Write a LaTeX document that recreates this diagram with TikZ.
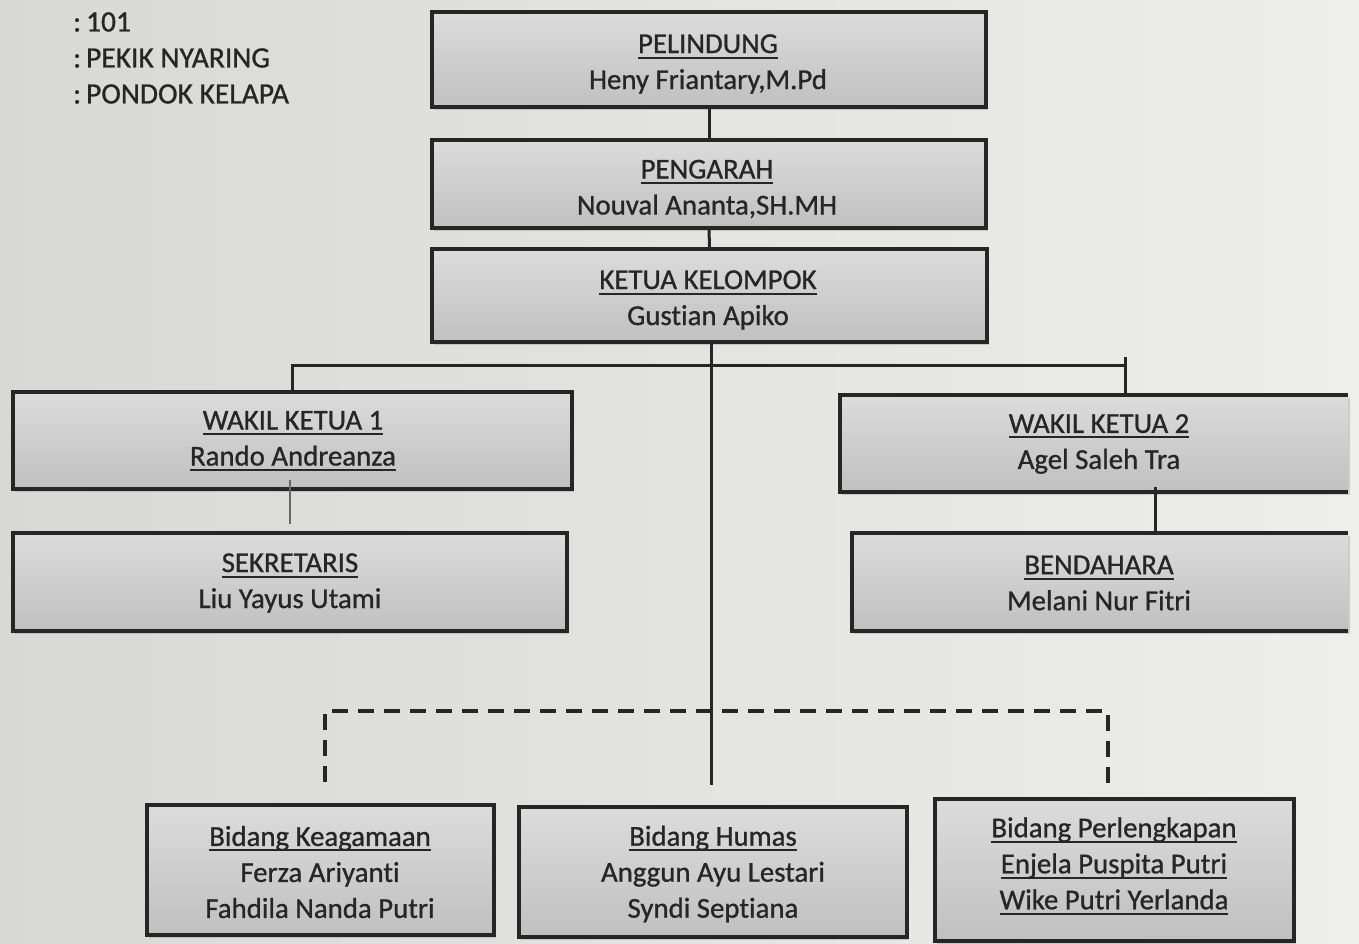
\documentclass[tikz,border=0pt]{standalone}
\usepackage{fontspec}
\setmainfont{Carlito}
\newfontfamily\inkfont[FakeBold=0.9,Ligatures=CommonOff]{Carlito}
\usetikzlibrary{shadows}
\definecolor{bgL}{RGB}{216,216,214}
\definecolor{bgR}{RGB}{238,238,236}
\definecolor{boxT}{RGB}{220,220,220}
\definecolor{boxB}{RGB}{192,192,192}
\definecolor{ink}{RGB}{38,38,38}
\newcommand\uln[1]{\setbox0\hbox{#1}\rlap{\rule[-5.5pt]{\wd0}{2pt}}\box0}
\begin{document}
\begin{tikzpicture}[x=1pt,y=-1pt,
  orgfill/.style={top color=boxT, bottom color=boxB,
    drop shadow={shadow xshift=2pt,shadow yshift=-3pt,opacity=0.3},
    inner sep=0pt, outer sep=0pt},
  orgbox/.style={orgfill, draw=ink, line width=3.5pt},
  lbl/.style={align=center, text=ink, font=\inkfont\fontsize{28.8}{36}\selectfont, inner sep=0pt},
  conn/.style={draw=ink, line width=3pt},
  thinconn/.style={draw=ink!70, line width=1.2pt},
  dashconn/.style={draw=ink, line width=3.5pt, dash pattern=on 16pt off 10pt},
  head/.style={anchor=west, text=ink, font=\inkfont\fontsize{29.5}{30}\selectfont, inner sep=0pt}]
\fill[left color=bgL, right color=bgR] (0,0) rectangle (1359,944);
\useasboundingbox (0,0) rectangle (1359,944);

% header texts
\node[head] (h1) at (73,22) {:\kern5pt101};
\node[head] (h2) at (73,58) {:\kern5ptPEKIK NYARING};
\node[head] (h3) at (73,94) {:\kern5ptPONDOK KELAPA};

% boxes
\node[orgbox, minimum width=554pt, minimum height=95pt] (pel) at (709,59.5) {};
\node[orgbox, minimum width=554pt, minimum height=88pt] (peng) at (709,184) {};
\node[orgbox, minimum width=555pt, minimum height=93pt] (ket) at (709.5,295.5) {};
\node[orgbox, minimum width=559pt, minimum height=97pt] (w1) at (292.5,440.5) {};
\node[orgbox, minimum width=554pt, minimum height=98pt] (sek) at (290,582) {};
\node[orgfill, minimum width=508pt, minimum height=97pt] (w2) at (1094,443.5) {};
\draw[ink, line width=3.5pt] (w2.north east) -- (w2.north west) -- (w2.south west) -- (w2.south east);
\node[orgfill, minimum width=496pt, minimum height=98pt] (bend) at (1100,582) {};
\draw[ink, line width=3.5pt] (bend.north east) -- (bend.north west) -- (bend.south west) -- (bend.south east);
\node[orgbox, minimum width=347pt, minimum height=130pt] (kea) at (320.5,870) {};
\node[orgbox, minimum width=388pt, minimum height=130pt] (hum) at (713,872) {};
\node[orgbox, minimum width=359pt, minimum height=142pt] (per) at (1114.5,870) {};

% box texts
\node[lbl] (tpel) at (708,64) {\uln{PELINDUNG}\\Heny Friantary,M.Pd};
\node[lbl] (tpeng) at (707,189) {\uln{PENGARAH}\\Nouval Ananta,SH.MH};
\node[lbl] (tket) at (708,300) {\uln{KETUA KELOMPOK}\\Gustian Apiko};
\node[lbl] (tw1) at (293,441) {\uln{WAKIL KETUA 1}\\\uln{Rando Andreanza}};
\node[lbl] (tsek) at (290,583) {\uln{SEKRETARIS}\\Liu Yayus Utami};
\node[lbl] (tw2) at (1099,444) {\uln{WAKIL KETUA 2}\\Agel Saleh Tra};
\node[lbl] (tbend) at (1099,583) {\uln{BENDAHARA}\\Melani Nur Fitri};
\node[lbl] (tkea) at (320,872) {\uln{Bidang Keagamaan}\\Ferza Ariyanti\\Fahdila Nanda Putri};
\node[lbl] (thum) at (713,874) {\uln{Bidang Humas}\\Anggun Ayu Lestari\\Syndi Septiana};
\node[lbl] (tper) at (1114,866) {\uln{Bidang Perlengkapan}\\\uln{Enjela Puspita Putri}\\\uln{Wike Putri Yerlanda}};

% connector coordinates
\coordinate (bar) at (0,365);
\coordinate (j2) at (1125,357);
\coordinate (cend) at (711,785);
\coordinate (t1) at (290,480);
\coordinate (t2) at (290,524);
\coordinate (b1) at (1155,487);
\coordinate (dl) at (325,782);
\coordinate (dtop) at (0,711);
\coordinate (dr) at (1108,785);

% connectors
\draw[conn] (pel.south) -- (peng.north);
\draw[conn] (peng.south) -- (ket.north);
\draw[conn] (ket.south -| cend) -- (cend);
\draw[conn] (w1.north) -- (w1.north |- bar) -- (j2 |- bar);
\draw[conn] (j2) -- (j2 |- w2.north);
\draw[thinconn] (t1) -- (t2);
\draw[conn] (b1) -- (b1 |- bend.north);
\draw[dashconn] (dl) -- (dl |- dtop) -- (dr |- dtop) -- (dr);
\end{tikzpicture}
\end{document}
